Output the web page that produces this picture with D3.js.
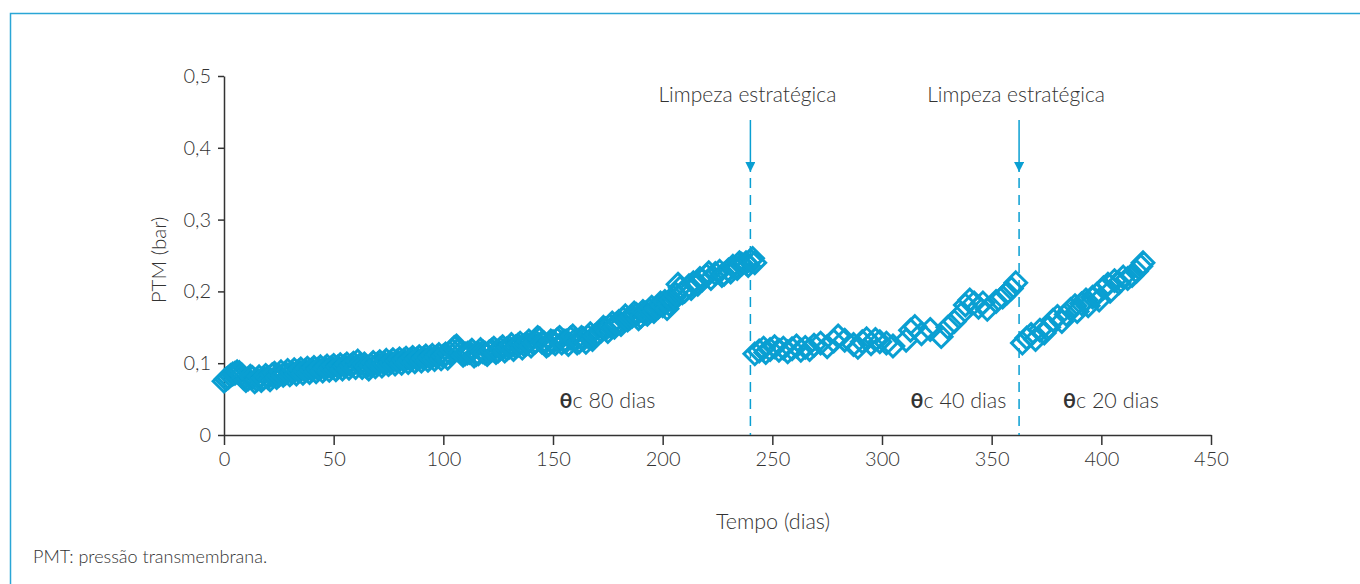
<!DOCTYPE html>
<html>
<head>
<meta charset="utf-8">
<script src="https://cdn.jsdelivr.net/npm/d3@7"></script>
<style>
  html, body { margin: 0; padding: 0; background: #fff; }
  svg { display: block; }
  text { font-family: Lato, "Open Sans", sans-serif; font-weight: 300; fill: #333; }
</style>
</head>
<body>
<svg id="chart" width="1360" height="584"></svg>
<script>
// Operating period 1 (θc 80 dias): days and PTM (bar)
const days1 = [0,1,2,3,4,5,6,7,8,9,10,11,12,13,14,15,16,17,18,19,20,21,22,23,24,25,26,27,28,29,
  30,31,32,33,34,35,36,37,38,39,40,41,42,43,44,45,46,47,48,49,50,51,52,53,54,55,56,57,58,59,
  60,61,62,63,64,65,66,67,68,69,70,71,72,73,74,75,76,77,78,79,80,81,82,83,84,85,86,87,88,89,
  90,91,92,93,94,95,96,97,98,99,100,101,102,103,104,105,106,107,108,109,110,
  111,112,113,114,115,116,117,118,119,120,121,122,123,124,125,126,127,128,129,130,
  131,132,133,134,135,136,137,138,139,140,141,142,143,144,145,146,147,148,149,150,
  151,152,153,154,155,156,157,158,159,160,161,162,163,164,165,166,167,168,169,170,
  172,173,174,175,176,177,178,179,180,181,182,183,184,185,186,187,188,189,190,191,
  192,193,194,195,196,197,198,199,200,201,202,203,204,205,206,207,208,209,210,212,
  213,214,216,217,218,220,221,222,224,226,227,228,230,231,232,234,235,236,238,239,
  240,241,242];
const ptm1 = [.075,.078,.080,.083,.085,.086,.088,.087,.084,.079,.076,.078,.082,.080,.074,.077,.081,.076,.079,.083,
  .080,.077,.084,.086,.080,.083,.088,.083,.086,.090,
  .084,.087,.091,.085,.089,.092,.086,.090,.093,.087,.091,.094,.088,.092,.095,.089,.093,.096,.090,.094,
  .097,.091,.095,.098,.092,.096,.099,.093,.097,.100,
  .094,.103,.098,.094,.099,.095,.092,.097,.101,.095,.099,.102,.096,.100,.104,.098,.101,.105,.099,.103,
  .106,.100,.104,.107,.101,.105,.108,.102,.106,.109,
  .103,.107,.110,.104,.108,.111,.105,.109,.112,.106,.110,.113,.107,.114,.118,.122,.124,.119,.115,.111,.113,
  .114,.115,.118,.110,.112,.113,.119,.116,.114,.112,.116,.118,.121,.115,.117,.120,.123,.117,.120,.122,
  .126,.119,.123,.125,.128,.121,.125,.127,.131,.124,.128,.130,.136,.134,.129,.128,.124,.126,.131,.130,
  .127,.133,.136,.128,.131,.131,.126,.135,.138,.132,.128,.130,.136,.134,.129,.137,.141,.133,.138,.140,
  .145,.150,.148,.144,.152,.156,.150,.155,.158,.154,.162,.166,.160,.163,.165,.170,.168,.162,.165,.172,
  .170,.168,.174,.178,.172,.176,.178,.184,.180,.186,.176,.182,.188,.192,.196,.210,.205,.198,.200,.208,
  .204,.212,.210,.218,.216,.222,.226,.218,.225,.228,.222,.224,.230,.227,.235,.232,.240,.238,.240,.236,
  .243,.246,.240];

// Operating period 2 (θc 40 dias)
const days2 = [242,244,246,247,249,251,253,255,257,259,261,263,265,267,269,272,275,278,280,283,
  287,289,291,293,295,297,299,302,305,311,313,315,318,322,327,330,333,336,338,340,
  342,344,346,348,352,355,357,359,361];
const ptm2 = [.113,.117,.121,.115,.119,.123,.118,.121,.116,.120,.124,.118,.122,.119,.125,.128,.123,.131,.138,.132,
  .126,.122,.130,.134,.127,.133,.130,.128,.124,.132,.146,.151,.141,.147,.137,.150,.158,.168,.181,.188,
  .184,.178,.184,.175,.186,.192,.198,.204,.212];

// Operating period 3 (θc 20 dias)
const days3 = [364,366,368,370,372,374,376,378,380,382,384,386,388,389,391,393,394,396,398,399,
  401,403,404,406,408,410,412,414,416,418,419];
const ptm3 = [.128,.135,.140,.133,.146,.142,.150,.160,.165,.158,.168,.175,.180,.172,.183,.188,.180,.192,.196,.188,
  .205,.210,.200,.215,.212,.220,.218,.222,.228,.235,.240];

// Axis ticks and annotations
const xTicks = [0,50,100,150,200,250,300,350,400,450];
const yTicks = [0,0.1,0.2,0.3,0.4,0.5];
const cleaningDays = [240,362.5];
const cleaningLabel = "Limpeza estratégica";
const periodDays = [153,313,382.5];
const periodTexts = ["c 80 dias","c 40 dias","c 20 dias"];

const blue = "#0a9fd2";
const svg = d3.select("#chart");

// Frame along top and left edges
svg.append("path")
  .attr("d", "M10.5,584 V13.5 H1360")
  .attr("fill", "none").attr("stroke", "#2aa6d6").attr("stroke-width", 1.5);

const x = d3.scaleLinear().domain([0,450]).range([224,1211]);
const y = d3.scaleLinear().domain([0,0.5]).range([435,76]);

// X axis
const gx = svg.append("g").attr("transform", "translate(0,435)")
  .call(d3.axisBottom(x).tickValues(xTicks).tickSize(10).tickSizeOuter(0).tickPadding(7));
gx.selectAll("text").style("font-size", "20px").attr("fill", "#333").attr("font-family", null);
gx.select(".domain").attr("stroke", "#333").attr("stroke-width", 1.5);
gx.selectAll(".tick line").attr("stroke", "#333").attr("stroke-width", 1.5);

// Y axis
const gy = svg.append("g").attr("transform", "translate(224,0)")
  .call(d3.axisLeft(y).tickValues(yTicks).tickSize(6).tickSizeOuter(0).tickPadding(7)
    .tickFormat(d => d === 0 ? "0" : d3.format(".1f")(d).replace(".", ",")));
gy.selectAll("text").style("font-size", "20px").attr("fill", "#333").attr("font-family", null);
gy.select(".domain").attr("stroke", "#333").attr("stroke-width", 1.5);
gy.selectAll(".tick line").attr("stroke", "#333").attr("stroke-width", 1.5);

// Axis titles
svg.append("text").attr("x", 773).attr("y", 529).attr("text-anchor", "middle")
  .style("font-size", "21.5px").text("Tempo (dias)");
svg.append("text").attr("transform", "translate(166,260) rotate(-90)").attr("text-anchor", "middle")
  .style("font-size", "20.5px").text("PTM (bar)");

// Footnote
svg.append("text").attr("x", 33).attr("y", 563).style("font-size", "18px").text("PMT: pressão transmembrana.");

// Cleaning markers: arrow + dashed line
const defs = svg.append("defs");
defs.append("marker").attr("id", "arrow").attr("viewBox", "0 0 10 10")
  .attr("refX", 10).attr("refY", 5).attr("markerWidth", 10).attr("markerHeight", 10)
  .attr("markerUnits", "userSpaceOnUse").attr("orient", "auto")
  .append("path").attr("d", "M0,0 L10,5 L0,10 Z").attr("fill", blue);

cleaningDays.forEach(d => {
  const cx = x(d);
  svg.append("line").attr("x1", cx).attr("x2", cx).attr("y1", 120).attr("y2", 172)
    .attr("stroke", blue).attr("stroke-width", 1.5).attr("marker-end", "url(#arrow)");
  svg.append("line").attr("x1", cx).attr("x2", cx).attr("y1", 178).attr("y2", 435)
    .attr("stroke", blue).attr("stroke-width", 1.5).attr("stroke-dasharray", "10,7");
  svg.append("text").attr("x", cx - 3).attr("y", 102).attr("text-anchor", "middle")
    .style("font-size", "21px").text(cleaningLabel);
});

// Diamond markers
const diamond = d3.symbol().type(d3.symbolDiamond2).size(300);
const series = [[days1, ptm1], [days2, ptm2], [days3, ptm3]];
series.forEach(([ds, vs]) => {
  svg.append("g").selectAll("path").data(ds.map((d, i) => [d, vs[i]])).join("path")
    .attr("d", diamond)
    .attr("transform", d => `translate(${x(d[0])},${y(d[1])})`)
    .attr("fill", "none").attr("stroke", blue).attr("stroke-width", 3);
});

// Period labels (θc ...)
periodDays.forEach((d, i) => {
  const t = svg.append("text").attr("x", x(d)).attr("y", 408).style("font-size", "21.5px");
  t.append("tspan").style("font-weight", 700).text("θ");
  t.append("tspan").text(periodTexts[i]);
});
</script>
</body>
</html>
